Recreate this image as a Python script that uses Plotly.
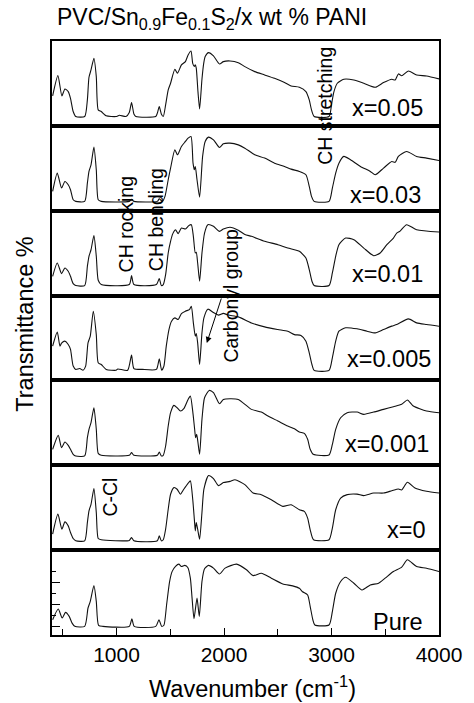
import plotly.graph_objects as go
from plotly.subplots import make_subplots

# FTIR spectra of PVC/Sn0.9Fe0.1S2 films with x wt % PANI, one panel per sample
samples = ["x=0.05", "x=0.03", "x=0.01", "x=0.005", "x=0.001", "x=0", "Pure"]

wn_005 = [406, 455, 492, 520, 551, 572, 597, 621, 704, 729, 744, 763, 790, 812, 830, 858, 904, 996, 1027, 1088,
          1119, 1140, 1162, 1180, 1365, 1380, 1398, 1417, 1435, 1457, 1481, 1503, 1543, 1567, 1604, 1641, 1666, 1693,
          1709, 1724, 1733, 1742, 1758, 1773, 1795, 1813, 1825, 1856, 1902, 1958, 1994, 2056, 2133, 2194, 2286, 2378,
          2470, 2563, 2624, 2701, 2762, 2793, 2814, 2839, 2977, 3002, 3023, 3054, 3115, 3208, 3300, 3407, 3484, 3561,
          3592, 3622, 3653, 3715, 3792, 3884, 4000]
tr_005 = [35.3, 59.2, 35.3, 43.5, 40.4, 32.5, 16.9, 11, 11, 30.6, 57.3, 65.9, 79.6, 58, 18.8, 16.9, 11.8, 11, 12.5, 11,
          15.7, 27.5, 14, 11, 11, 15, 22.7, 14, 11, 24.7, 42.4, 50.2, 66.7, 62, 71.8, 75.7, 83.5, 88.2,
          73.7, 70, 72, 68, 40, 20, 55, 75, 81.6, 86.3, 82.4, 72.9, 75.7, 76.5, 74.5, 69.8, 63.9, 60,
          56, 51, 47, 45.5, 40.4, 30.6, 18.8, 11, 11, 26.7, 40.4, 50.2, 54.9, 54, 50.2, 45.5, 51, 54.9,
          54, 61.2, 59, 64.7, 60, 58.8, 55.3]

wn_003 = [406, 449, 489, 520, 551, 572, 597, 621, 704, 729, 744, 763, 790, 812, 830, 858, 1119, 1140, 1162, 1380,
          1398, 1426, 1451, 1481, 1503, 1543, 1567, 1604, 1641, 1666, 1693, 1712, 1724, 1733, 1749, 1773, 1801, 1825,
          1856, 1902, 1958, 1994, 2056, 2133, 2194, 2286, 2378, 2470, 2563, 2624, 2701, 2762, 2793, 2814, 2839, 2977,
          3008, 3039, 3069, 3115, 3177, 3269, 3361, 3407, 3484, 3561, 3592, 3622, 3699, 3792, 3884, 4000]
tr_003 = [22.7, 44.3, 26.7, 34.5, 30.6, 24.7, 12.9, 11, 11, 32.5, 46.3, 54, 74.9, 48.2, 12.9, 11, 11, 13.5, 11, 11,
          14, 11, 16.9, 36.5, 50.2, 71.8, 65.9, 75.7, 81.6, 85.5, 87.5, 56, 48.2, 52, 36.5, 16, 64, 81.6,
          86.7, 83.5, 74.5, 78.8, 79.6, 77.6, 73.7, 65.9, 62, 56, 52.2, 49, 46.3, 42.4, 28.6, 16.9, 11, 11,
          26.7, 44.3, 56, 64, 60, 52.2, 46.3, 42.4, 50.2, 58, 57, 64, 69.8, 64, 62, 59.2]

wn_001 = [406, 449, 489, 520, 551, 572, 597, 621, 704, 729, 744, 763, 790, 812, 830, 858, 1119, 1140, 1162, 1371,
          1398, 1417, 1435, 1457, 1481, 1503, 1524, 1549, 1574, 1604, 1641, 1672, 1696, 1715, 1733, 1742, 1755, 1773,
          1795, 1819, 1850, 1902, 1958, 1994, 2056, 2133, 2194, 2255, 2378, 2501, 2593, 2655, 2701, 2762, 2793, 2818,
          2839, 2977, 3008, 3039, 3069, 3131, 3208, 3300, 3392, 3453, 3515, 3576, 3607, 3638, 3699, 3792, 4000]
tr_001 = [22.7, 38.4, 25.9, 32.5, 28.6, 22.7, 14, 11.8, 11.8, 34.5, 46.3, 54, 70.6, 46.3, 18, 13, 13, 23.5, 13, 13,
          20, 11.8, 13, 24.7, 50.2, 64, 73, 77.6, 73, 79.6, 78.4, 82.4, 83.5, 69.8, 50.2, 51, 38.4, 16.9,
          50, 73.7, 83.5, 81.6, 75.7, 78.4, 80.5, 77, 72, 69.8, 64, 60, 56, 54, 52.2, 44.3, 30.6, 16.9,
          11.8, 11.8, 26.7, 46.3, 60, 67.8, 65.9, 56, 47, 50.2, 60, 67.8, 73.7, 76, 83.5, 77.6, 74.9]

wn_0005 = [406, 449, 474, 489, 520, 551, 572, 597, 621, 658, 689, 713, 735, 756, 784, 812, 830, 858, 904, 996,
           1012, 1104, 1140, 1162, 1242, 1371, 1398, 1420, 1441, 1463, 1488, 1512, 1543, 1574, 1604, 1641, 1678, 1696,
           1715, 1733, 1742, 1755, 1773, 1795, 1813, 1850, 1902, 1948, 1994, 2040, 2133, 2255, 2378, 2501, 2593, 2655,
           2716, 2762, 2793, 2818, 2839, 2977, 3008, 3039, 3069, 3131, 3238, 3331, 3407, 3484, 3561, 3607, 3715, 3792,
           3884, 4000]
tr_0005 = [40.4, 56.9, 40.4, 44, 46.3, 42.4, 36.5, 16.9, 13, 14, 12, 16.9, 44.3, 52.2, 81.6, 54, 20.8, 18.8, 13, 12,
           13.5, 12, 29.8, 14, 13, 13, 25.5, 12, 16.9, 40.4, 60, 69.8, 73.7, 71.8, 78.8, 81.6, 83.5, 87.5,
           67.8, 52.2, 55.3, 44.3, 18.8, 56, 73.7, 84, 80, 77, 79, 77, 74.9, 67.8, 63.1, 60, 58, 54,
           53, 46.3, 32.5, 18.8, 11.8, 11.8, 26.7, 46.3, 58, 62, 60.8, 58, 56, 60, 64, 65.9, 72.5, 67.8,
           65.9, 63.9]

wn_0001 = [406, 458, 489, 520, 551, 572, 597, 621, 704, 729, 744, 763, 790, 812, 830, 858, 1119, 1140, 1162, 1380,
           1398, 1417, 1435, 1457, 1481, 1503, 1534, 1564, 1595, 1626, 1666, 1687, 1709, 1727, 1736, 1746, 1758, 1773,
           1795, 1819, 1862, 1902, 1958, 1994, 2056, 2133, 2255, 2347, 2409, 2501, 2593, 2655, 2701, 2747, 2778, 2802,
           2830, 2977, 3008, 3039, 3085, 3146, 3238, 3300, 3392, 3484, 3576, 3653, 3706, 3761, 3884, 4000]
tr_0001 = [18.8, 35.3, 20.8, 27.5, 23.5, 18.8, 13, 11, 11, 32.5, 42.4, 50.2, 67.8, 42.4, 14, 11.8, 11.8, 14.9, 11.8, 11.8,
           15.7, 11, 11.8, 22.7, 46.3, 62, 70.6, 67.8, 63.9, 66.7, 77.6, 81.6, 63.9, 42.4, 32.5, 36.5, 26.7, 13,
           54, 79.6, 88.2, 85.5, 72.5, 77.6, 78.4, 77.6, 65.9, 62.7, 58, 52.2, 46.3, 43, 39.2, 37.6, 30.6, 18.8,
           12.9, 12.2, 24.7, 42.4, 56, 62, 62.7, 60, 62.7, 65.9, 69, 71.8, 76.9, 69.8, 63.9, 62]

wn_0 = [406, 455, 492, 520, 551, 572, 597, 621, 704, 729, 744, 763, 790, 812, 830, 858, 1119, 1140, 1162, 1380,
        1398, 1417, 1435, 1457, 1481, 1503, 1534, 1564, 1595, 1626, 1666, 1687, 1709, 1724, 1733, 1742, 1755, 1773,
        1795, 1813, 1856, 1902, 1948, 1994, 2056, 2102, 2194, 2271, 2347, 2440, 2547, 2624, 2701, 2747, 2778, 2802,
        2833, 2977, 3008, 3039, 3085, 3146, 3238, 3300, 3392, 3484, 3561, 3622, 3653, 3706, 3776, 3884, 4000]
tr_0 = [18.8, 42.4, 24.7, 33.3, 28.6, 20.8, 13.7, 11, 11, 32.5, 46.3, 54, 72.5, 44.3, 13.7, 12.2, 11.5, 14.9, 11, 11,
        16.9, 11, 12.2, 24.7, 48.2, 65.9, 73.7, 71.8, 65.9, 71.8, 78.8, 81.6, 60, 36.5, 22.7, 32.5, 24.7, 12.9,
        44.3, 71.8, 88, 84.3, 76, 79.6, 81, 83, 77.2, 67.3, 65.4, 59.4, 51.6, 53.5, 47.6, 45.7, 37.8, 24,
        12.2, 12.2, 26, 47.6, 61.4, 65.4, 66, 64.2, 67.3, 67.3, 70, 72, 71, 80, 73.2, 69.3, 67.3]

wn_pure = [406, 458, 495, 526, 560, 587, 612, 704, 735, 756, 790, 812, 833, 873, 1119, 1143, 1165, 1365, 1395, 1420,
           1441, 1466, 1494, 1518, 1549, 1580, 1604, 1635, 1663, 1687, 1703, 1721, 1749, 1770, 1795, 1819, 1856, 1902,
           1957, 2010, 2117, 2209, 2271, 2347, 2440, 2547, 2639, 2701, 2731, 2778, 2802, 2827, 2845, 2977, 3008, 3039,
           3085, 3131, 3208, 3284, 3361, 3438, 3499, 3576, 3653, 3706, 3792, 3884, 4000]
tr_pure = [18, 30.6, 20, 26.7, 22, 14, 10.2, 10.2, 31.8, 39.6, 58.4, 39.6, 11.4, 10.2, 10.2, 19.2, 10.2, 10.2, 18, 10.2,
           11.5, 35.7, 63, 75, 80.8, 83.5, 80.8, 82, 79.6, 67, 43.5, 19.2, 43.5, 22, 63, 78, 82, 78.8,
           71.8, 78.8, 83.5, 76.9, 70, 72.8, 67, 60.2, 57.9, 55, 51, 47.2, 33.5, 17.7, 11.8, 11.8, 27.6, 49.2,
           63, 68, 61, 53.1, 59, 61, 67, 74.8, 80, 88.6, 80.7, 78.7, 74.8]

spectra = [(wn_005, tr_005), (wn_003, tr_003), (wn_001, tr_001), (wn_0005, tr_0005),
           (wn_0001, tr_0001), (wn_0, tr_0), (wn_pure, tr_pure)]

x_ticks = [1000, 2000, 3000, 4000]
x_minor = [500, 1500, 2500, 3500]
y_ticks = [10.6, 36.2, 61.8]
y_minor = [23.4, 49, 74.6]
FONT = "Liberation Sans, Arial, sans-serif"

n = len(samples)
fig = make_subplots(rows=n, cols=1, shared_xaxes=True, vertical_spacing=0)

for i, (wn, tr) in enumerate(spectra):
    fig.add_trace(go.Scatter(x=wn, y=tr, mode="lines",
                             line=dict(color="#111111", width=1.1, shape="spline", smoothing=0.6),
                             showlegend=False, hoverinfo="skip"), row=i + 1, col=1)

for i in range(n):
    last = (i == n - 1)
    fig.update_xaxes(range=[400, 4000], showline=True, mirror=True, linecolor="black", linewidth=1.6,
                     showgrid=False, zeroline=False,
                     ticks="inside" if last else "", ticklen=7, tickwidth=1.2, tickcolor="black",
                     tickmode="array", tickvals=x_ticks, showticklabels=last,
                     minor=dict(ticks="inside" if last else "", tickmode="array",
                                tickvals=x_minor, ticklen=6, tickwidth=1.2, tickcolor="black"),
                     tickfont=dict(family=FONT, size=21, color="black"),
                     row=i + 1, col=1)
    fig.update_yaxes(range=[0, 100], showline=True, mirror=True, linecolor="black", linewidth=1.6,
                     showgrid=False, zeroline=False, showticklabels=False,
                     ticks="inside" if last else "", ticklen=8, tickwidth=1.2, tickcolor="black",
                     tickmode="array", tickvals=y_ticks if last else [],
                     minor=dict(ticks="inside" if last else "", tickmode="array",
                                tickvals=y_minor, ticklen=4, tickwidth=1.2, tickcolor="black"),
                     row=i + 1, col=1)

# sample labels inside each panel (wavenumber, % of panel height)
label_pos = [(3838, 21), (3820, 19), (3838, 25), (3912, 25), (3902, 25), (3866, 23.5), (3838, 15.5)]
annotations = []
for i, (name, (lx, ly)) in enumerate(zip(samples, label_pos)):
    suffix = "" if i == 0 else str(i + 1)
    annotations.append(dict(text=name, x=lx, y=ly, xref="x" + suffix, yref="y" + suffix,
                            xanchor="right", yanchor="middle", xshift=3, showarrow=False,
                            font=dict(family=FONT, size=23.5, color="black")))

# band assignments, written vertically
band_labels = [("CH stretching", 0.705, 0.8906), ("CH rocking", 0.1923, 0.6919),
               ("CH bending", 0.2692, 0.6987), ("Carbonyl group", 0.4615, 0.5707),
               ("C-Cl", 0.1487, 0.2323)]
for text, bx, by in band_labels:
    annotations.append(dict(text=text, x=bx, y=by, xref="paper", yref="paper", textangle=-90,
                            xanchor="center", yanchor="middle", showarrow=False,
                            font=dict(family=FONT, size=19.5, color="black")))

# arrow pointing at the carbonyl band
annotations.append(dict(text="", x=0.4, y=0.4916, xref="paper", yref="paper", showarrow=True,
                        ax=15, ay=-46, arrowhead=2, arrowsize=1.2, arrowwidth=1, arrowcolor="black"))

annotations.append(dict(text="PVC/Sn<sub>0.9</sub>Fe<sub>0.1</sub>S<sub>2</sub>/x wt % PANI",
                        x=0.0077, y=1.0387, xref="paper", yref="paper", xanchor="left", yanchor="middle",
                        showarrow=False, font=dict(family=FONT, size=23, color="black")))
annotations.append(dict(text="Wavenumber (cm<sup>-1</sup>)", x=0.518, y=-0.0875, xref="paper", yref="paper",
                        xanchor="center", yanchor="middle", showarrow=False,
                        font=dict(family=FONT, size=23.5, color="black")))
annotations.append(dict(text="Transmittance %", x=-0.0718, y=0.5244, xref="paper", yref="paper",
                        textangle=-90, xanchor="center", yanchor="middle", showarrow=False,
                        font=dict(family=FONT, size=23.5, color="black")))

fig.update_layout(width=474, height=703, margin=dict(l=52, r=32, t=41, b=68),
                  paper_bgcolor="white", plot_bgcolor="white", annotations=annotations)

fig.write_html("out.html")
